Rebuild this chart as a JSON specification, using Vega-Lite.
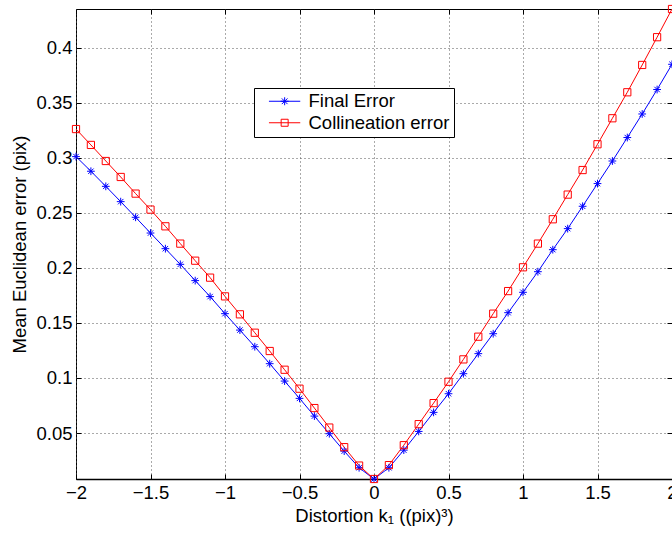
{
  "$schema": "https://vega.github.io/schema/vega-lite/v6.json",
  "width": 596,
  "height": 470,
  "autosize": {"type": "none"},
  "padding": {"left": 76, "top": 9, "right": 0, "bottom": 57},
  "background": "white",
  "config": {
    "font": "Liberation Sans",
    "view": {"stroke": "black", "strokeWidth": 1},
    "axis": {
      "labelFont": "Liberation Sans", "labelFontSize": 18.5, "labelColor": "black",
      "titleFont": "Liberation Sans", "titleFontSize": 18.5, "titleFontWeight": "normal", "titleColor": "black",
      "tickColor": "black", "tickSize": -5, "domain": false, "labelFlush": false,
      "gridColor": "#555", "gridDash": [1, 3], "gridWidth": 1, "gridOpacity": 1,
      "labelPadding": 9
    }
  },
  "data": {"values": [
    {"x": -2.0, "y": 0.301, "s": "Final Error"},
    {"x": -1.9, "y": 0.2877, "s": "Final Error"},
    {"x": -1.8, "y": 0.274, "s": "Final Error"},
    {"x": -1.7, "y": 0.2601, "s": "Final Error"},
    {"x": -1.6, "y": 0.2459, "s": "Final Error"},
    {"x": -1.5, "y": 0.2316, "s": "Final Error"},
    {"x": -1.4, "y": 0.2174, "s": "Final Error"},
    {"x": -1.3, "y": 0.2032, "s": "Final Error"},
    {"x": -1.2, "y": 0.1884, "s": "Final Error"},
    {"x": -1.1, "y": 0.1739, "s": "Final Error"},
    {"x": -1.0, "y": 0.1584, "s": "Final Error"},
    {"x": -0.9, "y": 0.1435, "s": "Final Error"},
    {"x": -0.8, "y": 0.1284, "s": "Final Error"},
    {"x": -0.7, "y": 0.113, "s": "Final Error"},
    {"x": -0.6, "y": 0.0972, "s": "Final Error"},
    {"x": -0.5, "y": 0.0815, "s": "Final Error"},
    {"x": -0.4, "y": 0.0654, "s": "Final Error"},
    {"x": -0.3, "y": 0.0494, "s": "Final Error"},
    {"x": -0.2, "y": 0.0336, "s": "Final Error"},
    {"x": -0.1, "y": 0.0185, "s": "Final Error"},
    {"x": 0.0, "y": 0.0083, "s": "Final Error"},
    {"x": 0.1, "y": 0.0185, "s": "Final Error"},
    {"x": 0.2, "y": 0.0345, "s": "Final Error"},
    {"x": 0.3, "y": 0.0515, "s": "Final Error"},
    {"x": 0.4, "y": 0.0688, "s": "Final Error"},
    {"x": 0.5, "y": 0.0857, "s": "Final Error"},
    {"x": 0.6, "y": 0.1039, "s": "Final Error"},
    {"x": 0.7, "y": 0.1221, "s": "Final Error"},
    {"x": 0.8, "y": 0.1402, "s": "Final Error"},
    {"x": 0.9, "y": 0.1593, "s": "Final Error"},
    {"x": 1.0, "y": 0.1778, "s": "Final Error"},
    {"x": 1.1, "y": 0.1965, "s": "Final Error"},
    {"x": 1.2, "y": 0.2165, "s": "Final Error"},
    {"x": 1.3, "y": 0.2356, "s": "Final Error"},
    {"x": 1.4, "y": 0.2559, "s": "Final Error"},
    {"x": 1.5, "y": 0.2765, "s": "Final Error"},
    {"x": 1.6, "y": 0.297, "s": "Final Error"},
    {"x": 1.7, "y": 0.3183, "s": "Final Error"},
    {"x": 1.8, "y": 0.3397, "s": "Final Error"},
    {"x": 1.9, "y": 0.3619, "s": "Final Error"},
    {"x": 2.0, "y": 0.3848, "s": "Final Error"},
    {"x": -2.0, "y": 0.326, "s": "Collineation error"},
    {"x": -1.9, "y": 0.3116, "s": "Collineation error"},
    {"x": -1.8, "y": 0.297, "s": "Collineation error"},
    {"x": -1.7, "y": 0.2825, "s": "Collineation error"},
    {"x": -1.6, "y": 0.2674, "s": "Collineation error"},
    {"x": -1.5, "y": 0.2529, "s": "Collineation error"},
    {"x": -1.4, "y": 0.2377, "s": "Collineation error"},
    {"x": -1.3, "y": 0.222, "s": "Collineation error"},
    {"x": -1.2, "y": 0.2065, "s": "Collineation error"},
    {"x": -1.1, "y": 0.1911, "s": "Collineation error"},
    {"x": -1.0, "y": 0.1741, "s": "Collineation error"},
    {"x": -0.9, "y": 0.1578, "s": "Collineation error"},
    {"x": -0.8, "y": 0.1411, "s": "Collineation error"},
    {"x": -0.7, "y": 0.1245, "s": "Collineation error"},
    {"x": -0.6, "y": 0.1075, "s": "Collineation error"},
    {"x": -0.5, "y": 0.0903, "s": "Collineation error"},
    {"x": -0.4, "y": 0.0727, "s": "Collineation error"},
    {"x": -0.3, "y": 0.055, "s": "Collineation error"},
    {"x": -0.2, "y": 0.0372, "s": "Collineation error"},
    {"x": -0.1, "y": 0.0205, "s": "Collineation error"},
    {"x": 0.0, "y": 0.0083, "s": "Collineation error"},
    {"x": 0.1, "y": 0.0209, "s": "Collineation error"},
    {"x": 0.2, "y": 0.039, "s": "Collineation error"},
    {"x": 0.3, "y": 0.0581, "s": "Collineation error"},
    {"x": 0.4, "y": 0.0772, "s": "Collineation error"},
    {"x": 0.5, "y": 0.0966, "s": "Collineation error"},
    {"x": 0.6, "y": 0.1169, "s": "Collineation error"},
    {"x": 0.7, "y": 0.1375, "s": "Collineation error"},
    {"x": 0.8, "y": 0.1584, "s": "Collineation error"},
    {"x": 0.9, "y": 0.1789, "s": "Collineation error"},
    {"x": 1.0, "y": 0.2005, "s": "Collineation error"},
    {"x": 1.1, "y": 0.222, "s": "Collineation error"},
    {"x": 1.2, "y": 0.2441, "s": "Collineation error"},
    {"x": 1.3, "y": 0.2665, "s": "Collineation error"},
    {"x": 1.4, "y": 0.2888, "s": "Collineation error"},
    {"x": 1.5, "y": 0.3122, "s": "Collineation error"},
    {"x": 1.6, "y": 0.3358, "s": "Collineation error"},
    {"x": 1.7, "y": 0.3594, "s": "Collineation error"},
    {"x": 1.8, "y": 0.3842, "s": "Collineation error"},
    {"x": 1.9, "y": 0.4094, "s": "Collineation error"},
    {"x": 2.0, "y": 0.435, "s": "Collineation error"}
  ]},
  "layer": [
    {
      "mark": {"type": "line", "strokeWidth": 1, "clip": false},
      "encoding": {
        "x": {"field": "x", "type": "quantitative",
          "scale": {"domain": [-2, 2], "nice": false, "zero": false},
          "axis": {"values": [-2, -1.5, -1, -0.5, 0, 0.5, 1, 1.5, 2], "format": "~g", "grid": true,
            "title": "Distortion k₁ ((pix)³)", "domain": true, "domainWidth": 1.5, "domainColor": "black", "titlePadding": 5}},
        "y": {"field": "y", "type": "quantitative",
          "scale": {"domain": [0.0083, 0.435], "nice": false, "zero": false},
          "axis": {"values": [0.05, 0.1, 0.15, 0.2, 0.25, 0.3, 0.35, 0.4], "format": ".2~f", "grid": true,
            "title": "Mean Euclidean error (pix)", "titlePadding": 6}},
        "color": {"field": "s", "type": "nominal",
          "scale": {"domain": ["Final Error", "Collineation error"], "range": ["#0000ff", "#ff0000"]},
          "legend": {
            "orient": "none", "legendX": 178, "legendY": 79, "title": null,
            "labelFont": "Liberation Sans", "labelFontSize": 18.5, "labelColor": "black",
            "labelExpr": "datum.label + ' '",
            "strokeColor": "black", "fillColor": "white", "padding": 4,
            "symbolSize": 100, "symbolStrokeWidth": 1, "labelOffset": 32, "rowPadding": 2.5,
            "symbolType": "M0.34,0L6.6,0",
            "encode": {"symbols": {"update": {
              "shape": {"signal": "datum.value === 'Final Error' ? 'M0.34,0L6.6,0M3.48,-0.8L3.48,0.8M2.68,0L4.28,0M2.91,-0.57L4.05,0.57M2.91,0.57L4.05,-0.57' : 'M0.34,0L6.6,0M2.78,-0.7L4.18,-0.7L4.18,0.7L2.78,0.7Z'"},
              "fill": {"value": "transparent"},
              "strokeWidth": {"value": 1}
            }}}
          }}
      }
    },
    {
      "transform": [{"filter": "datum.s === 'Final Error'"}],
      "mark": {"type": "point", "filled": false, "strokeWidth": 1, "size": 60, "clip": false, "opacity": 1, "color": "#0000ff",
        "shape": "M-1,0L1,0M0,-1L0,1M-0.7,-0.7L0.7,0.7M-0.7,0.7L0.7,-0.7"},
      "encoding": {
        "x": {"field": "x", "type": "quantitative",
          "scale": {"domain": [-2, 2], "nice": false, "zero": false},
          "axis": {"orient": "top", "labels": false, "grid": false, "title": null, "values": [-2, -1.5, -1, -0.5, 0, 0.5, 1, 1.5, 2]}},
        "y": {"field": "y", "type": "quantitative",
          "scale": {"domain": [0.0083, 0.435], "nice": false, "zero": false},
          "axis": {"orient": "right", "labels": false, "grid": false, "title": null, "values": [0.05, 0.1, 0.15, 0.2, 0.25, 0.3, 0.35, 0.4]}}
      }
    },
    {
      "transform": [{"filter": "datum.s === 'Collineation error'"}],
      "mark": {"type": "point", "filled": false, "strokeWidth": 1, "size": 52, "clip": false, "opacity": 1, "color": "#ff0000",
        "shape": "M-1,-1L1,-1L1,1L-1,1Z"},
      "encoding": {
        "x": {"field": "x", "type": "quantitative", "axis": null},
        "y": {"field": "y", "type": "quantitative", "axis": null}
      }
    }
  ],
  "resolve": {"axis": {"x": "independent", "y": "independent"}}
}
